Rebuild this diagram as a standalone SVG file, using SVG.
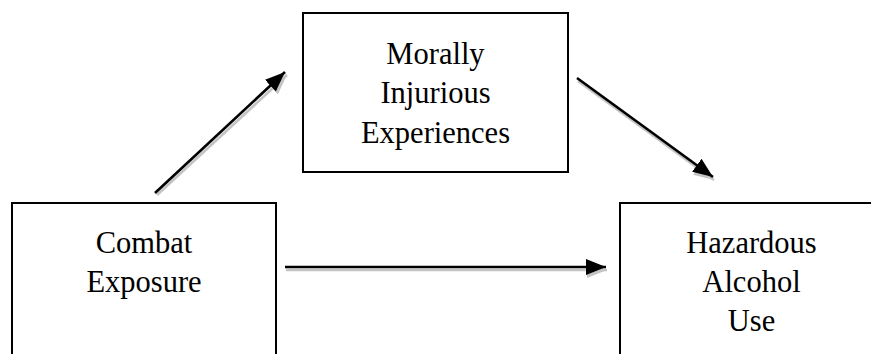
<svg xmlns="http://www.w3.org/2000/svg" width="871" height="354" viewBox="0 0 871 354">
<style>
.box{fill:#fff;stroke:#000;stroke-width:2}
.t{font-family:"Liberation Serif","Times New Roman",serif;font-size:30.5px;fill:#000;text-anchor:middle}
.ln{stroke:#000;stroke-width:2.6;fill:none}
.sh{stroke:#c4c4c4;stroke-width:2.6;fill:none}
</style>
<defs>
<marker id="ah" markerUnits="userSpaceOnUse" markerWidth="22" markerHeight="18" refX="20" refY="8" orient="auto">
<path d="M0,0 L20,8 L0,16 Z" fill="#000"/>
</marker>
<marker id="ahs" markerUnits="userSpaceOnUse" markerWidth="22" markerHeight="18" refX="20" refY="8" orient="auto">
<path d="M0,0 L20,8 L0,16 Z" fill="#c4c4c4"/>
</marker>
</defs>
<rect width="871" height="354" fill="#fff"/>
<g id="node-moral">
<rect class="box" x="303" y="13" width="265" height="159"/>
<text class="t" x="435.5" y="64">Morally</text>
<text class="t" x="435.5" y="103">Injurious</text>
<text class="t" x="435.5" y="143">Experiences</text>
</g>
<g id="node-combat">
<rect class="box" x="12" y="203" width="264" height="170"/>
<text class="t" x="144" y="253">Combat</text>
<text class="t" x="144" y="292">Exposure</text>
</g>
<g id="node-alcohol">
<rect class="box" x="620" y="203" width="270" height="170"/>
<text class="t" x="751.5" y="253">Hazardous</text>
<text class="t" x="751.5" y="292">Alcohol</text>
<text class="t" x="751.5" y="331">Use</text>
</g>
<g id="connectors">
<line class="sh" x1="157" y1="195" x2="287" y2="75" marker-end="url(#ahs)"/>
<line class="sh" x1="578" y1="81" x2="714" y2="180" marker-end="url(#ahs)"/>
<line class="sh" x1="286" y1="270" x2="607" y2="270" marker-end="url(#ahs)"/>
<line class="ln" x1="155" y1="193" x2="285" y2="72" marker-end="url(#ah)"/>
<line class="ln" x1="577" y1="78" x2="713" y2="177" marker-end="url(#ah)"/>
<line class="ln" x1="285" y1="267" x2="606" y2="267" marker-end="url(#ah)"/>
</g>
</svg>
